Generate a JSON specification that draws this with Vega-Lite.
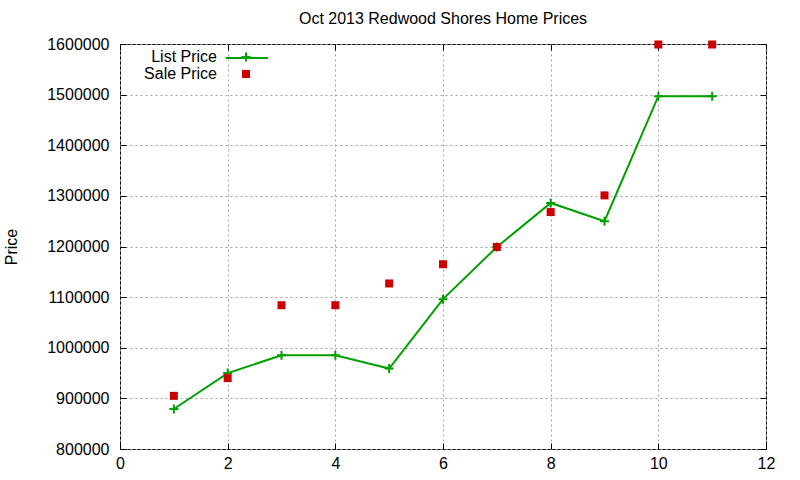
{
  "$schema": "https://vega.github.io/schema/vega-lite/v6.json",
  "width": 646,
  "height": 405,
  "autosize": {"type": "none"},
  "padding": {"left": 120, "top": 44, "right": 34, "bottom": 31},
  "background": "white",
  "title": {
    "text": "Oct 2013 Redwood Shores Home Prices",
    "font": "Liberation Sans",
    "fontSize": 16,
    "fontWeight": "normal",
    "color": "black",
    "anchor": "middle",
    "offset": 9
  },
  "config": {
    "view": {"stroke": "black", "strokeWidth": 1},
    "axis": {
      "labelFont": "Liberation Sans",
      "labelFontSize": 16,
      "labelColor": "black",
      "titleFont": "Liberation Sans",
      "titleFontSize": 16,
      "titleFontWeight": "normal",
      "titleColor": "black",
      "domain": false,
      "tickColor": "black",
      "tickSize": -6,
      "gridColor": "#a0a0a0",
      "gridDash": [2, 3],
      "gridWidth": 1
    },
    "legend": {
      "orient": "none",
      "legendX": 118,
      "legendY": 5,
      "padding": 0,
      "labelFont": "Liberation Sans",
      "labelFontSize": 16,
      "labelColor": "black",
      "labelAlign": "right",
      "labelOffset": -37,
      "symbolSize": 81,
      "symbolStrokeWidth": 2,
      "rowPadding": 0
    }
  },
  "data": {
    "values": [
      {"x": 1, "price": 879000, "series": "List Price"},
      {"x": 2, "price": 950000, "series": "List Price"},
      {"x": 3, "price": 985000, "series": "List Price"},
      {"x": 4, "price": 985000, "series": "List Price"},
      {"x": 5, "price": 959000, "series": "List Price"},
      {"x": 6, "price": 1096000, "series": "List Price"},
      {"x": 7, "price": 1199000, "series": "List Price"},
      {"x": 8, "price": 1286000, "series": "List Price"},
      {"x": 9, "price": 1250000, "series": "List Price"},
      {"x": 10, "price": 1497000, "series": "List Price"},
      {"x": 11, "price": 1497000, "series": "List Price"},
      {"x": 1, "price": 905000, "series": "Sale Price"},
      {"x": 2, "price": 940000, "series": "Sale Price"},
      {"x": 3, "price": 1084000, "series": "Sale Price"},
      {"x": 4, "price": 1084000, "series": "Sale Price"},
      {"x": 5, "price": 1127000, "series": "Sale Price"},
      {"x": 6, "price": 1165000, "series": "Sale Price"},
      {"x": 7, "price": 1199000, "series": "Sale Price"},
      {"x": 8, "price": 1268000, "series": "Sale Price"},
      {"x": 9, "price": 1301000, "series": "Sale Price"},
      {"x": 10, "price": 1599000, "series": "Sale Price"},
      {"x": 11, "price": 1599000, "series": "Sale Price"}
    ]
  },
  "layer": [
    {
      "transform": [{"filter": "datum.series === 'List Price'"}],
      "mark": {"type": "line", "strokeWidth": 2},
      "encoding": {
        "x": {
          "field": "x", "type": "quantitative",
          "scale": {"domain": [0, 12], "nice": false, "zero": false},
          "axis": {"values": [0, 2, 4, 6, 8, 10, 12], "title": null, "labelPadding": 12, "labelFlush": false}
        },
        "y": {
          "field": "price", "type": "quantitative",
          "scale": {"domain": [800000, 1600000], "nice": false, "zero": false},
          "axis": {
            "values": [800000, 900000, 1000000, 1100000, 1200000, 1300000, 1400000, 1500000, 1600000],
            "format": "d", "title": "Price", "labelPadding": 17, "titlePadding": 27
          }
        },
        "color": {
          "field": "series", "type": "nominal",
          "scale": {"domain": ["List Price"], "range": ["#00a000"]},
          "legend": {
            "title": null,
            "legendX": 105,
            "legendY": -8,
            "symbolType": "stroke",
            "symbolSize": 1764,
            "symbolStrokeWidth": 2,
            "labelExpr": "''"
          }
        }
      }
    },
    {
      "mark": {"type": "point", "opacity": 1, "strokeWidth": 2},
      "encoding": {
        "x": {
          "field": "x", "type": "quantitative",
          "axis": {"orient": "top", "values": [0, 2, 4, 6, 8, 10, 12], "labels": false, "grid": false, "title": null}
        },
        "y": {
          "field": "price", "type": "quantitative",
          "axis": {
            "orient": "right", "labels": false, "grid": false, "title": null,
            "values": [800000, 900000, 1000000, 1100000, 1200000, 1300000, 1400000, 1500000, 1600000]
          }
        },
        "shape": {
          "field": "series", "type": "nominal",
          "scale": {"domain": ["List Price", "Sale Price"], "range": ["M-1,0H1M0,-1V1", "square"]},
          "legend": {"title": null}
        },
        "size": {
          "field": "series", "type": "nominal",
          "scale": {"domain": ["List Price", "Sale Price"], "range": [81, 64]}
        },
        "fill": {
          "field": "series", "type": "nominal",
          "scale": {"domain": ["List Price", "Sale Price"], "range": ["transparent", "#cc0000"]}
        },
        "stroke": {
          "field": "series", "type": "nominal",
          "scale": {"domain": ["List Price", "Sale Price"], "range": ["#00a000", "transparent"]}
        }
      }
    }
  ],
  "resolve": {"axis": {"x": "independent", "y": "independent"}}
}
